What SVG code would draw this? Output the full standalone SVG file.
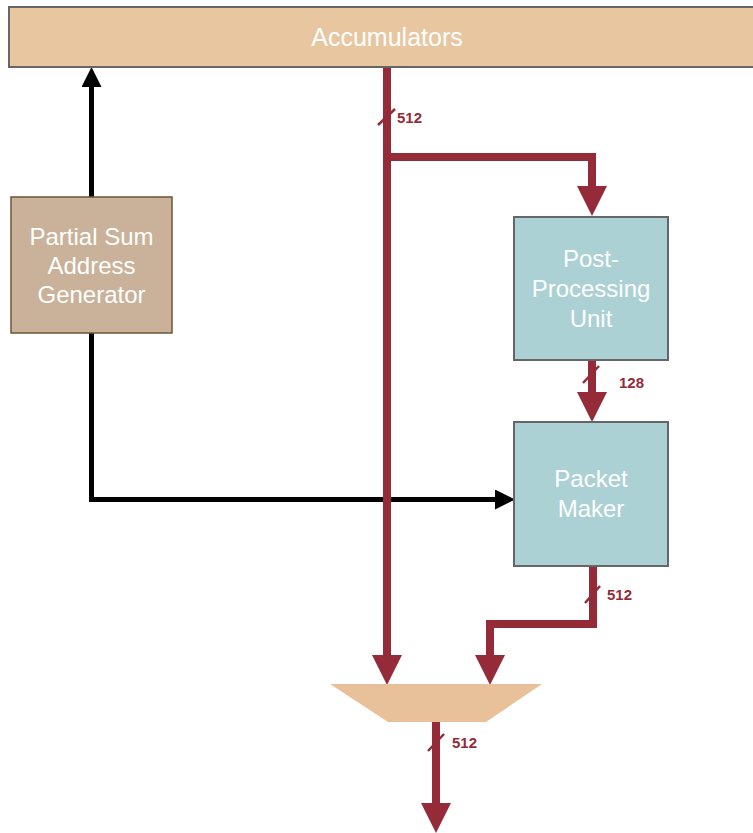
<svg xmlns="http://www.w3.org/2000/svg" width="753" height="833" viewBox="0 0 753 833">
  <defs>
    <style>
      .lbl { font-family: "Liberation Sans", Arial, sans-serif; fill: #ffffff; text-anchor: middle; font-size: 24px; }
      .bus { fill: none; stroke: #952b38; stroke-width: 8; }
      .ctl { fill: none; stroke: #000000; stroke-width: 5; }
      .slash { stroke: #952b38; stroke-width: 2.5; fill: none; }
      .w { font-family: "Liberation Sans", Arial, sans-serif; font-weight: bold; font-size: 15px; fill: #952b38; }
      .cyan { fill: #abd1d4; stroke: #666666; stroke-width: 2; }
    </style>
    <marker id="rh" viewBox="0 -15 30 30" markerWidth="30" markerHeight="30" refX="0" refY="0" orient="auto" markerUnits="userSpaceOnUse">
      <path d="M0,-15 L30,0 L0,15 Z" fill="#952b38"/>
    </marker>
    <marker id="bh" viewBox="0 -10 20 20" markerWidth="20" markerHeight="20" refX="0" refY="0" orient="auto" markerUnits="userSpaceOnUse">
      <path d="M0,-10 L20,0 L0,10 Z" fill="#000000"/>
    </marker>
  </defs>
  <rect width="753" height="833" fill="#ffffff"/>

  <g id="connectors">
    <path class="ctl" d="M91.5,197 V87" marker-end="url(#bh)"/>
    <path class="ctl" d="M91.5,333 V499.5 H495" marker-end="url(#bh)"/>
    <path class="bus" d="M387,67 V655" marker-end="url(#rh)"/>
    <path class="bus" d="M387,157 H592 V186" marker-end="url(#rh)"/>
    <path class="bus" d="M592,360 V392" marker-end="url(#rh)"/>
    <path class="bus" d="M593,566 V624 H490 V655" marker-end="url(#rh)"/>
    <path class="bus" d="M436,722 V803" marker-end="url(#rh)"/>
    <line class="slash" x1="378" y1="125" x2="395" y2="109"/>
    <text class="w" x="397" y="123">512</text>
    <line class="slash" x1="583" y1="383" x2="599" y2="366"/>
    <text class="w" x="619" y="388">128</text>
    <line class="slash" x1="585" y1="603" x2="600" y2="586"/>
    <text class="w" x="607" y="600">512</text>
    <line class="slash" x1="428" y1="751" x2="444" y2="734"/>
    <text class="w" x="452" y="748">512</text>
  </g>

  <g id="accumulators">
    <rect x="9" y="7" width="750" height="60" fill="#e8c69f" stroke="#666666" stroke-width="2"/>
    <text class="lbl" x="387" y="46" style="font-size:25px">Accumulators</text>
  </g>

  <g id="psag">
    <rect x="11" y="197" width="161" height="136" fill="#c9b299" stroke="#6e5434" stroke-width="1.5"/>
    <text class="lbl" x="91.5" y="245">Partial Sum</text>
    <text class="lbl" x="91.5" y="274">Address</text>
    <text class="lbl" x="91.5" y="303">Generator</text>
  </g>

  <g id="ppu">
    <rect class="cyan" x="514" y="217" width="154" height="143"/>
    <text class="lbl" x="591" y="267">Post-</text>
    <text class="lbl" x="591" y="297">Processing</text>
    <text class="lbl" x="591" y="327">Unit</text>
  </g>

  <g id="packet-maker">
    <rect class="cyan" x="514" y="422" width="154" height="144"/>
    <text class="lbl" x="591" y="487">Packet</text>
    <text class="lbl" x="591" y="517">Maker</text>
  </g>

  <g id="mux">
    <polygon points="330,684 542,684 486,722 388,722" fill="#e8c19a"/>
  </g>
</svg>
